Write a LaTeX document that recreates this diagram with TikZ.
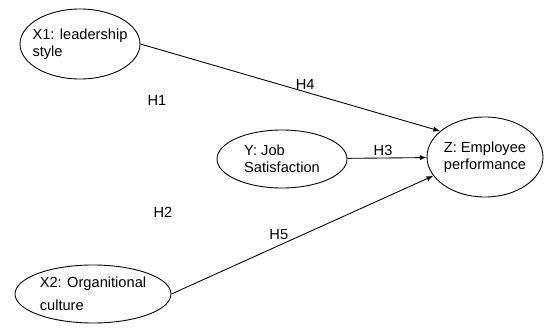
\documentclass[tikz,border=0pt]{standalone}
\usepackage{fontspec}
\setmainfont{Liberation Sans}
\usetikzlibrary{shapes.geometric}
\usetikzlibrary{arrows.meta}

\begin{document}
\begin{tikzpicture}
	[
		x = 0.024cm, y = -0.024cm,
		myconstruct/.style = {draw, ellipse, line width = 0.6pt, inner xsep = -2cm, inner ysep = -1cm, align = left, font = \fontsize{10}{11.6}\selectfont},
		myhypothesis/.style = {inner sep = 1pt, font = \fontsize{10}{12}\selectfont},
		myarrow/.style = {-latex, line width = 0.6pt}
	]
	%
	\useasboundingbox (0,0) rectangle (545,333);
	%
	\node (leadership) [myconstruct, minimum width = 2.88cm, minimum height = 1.68cm] at (80,44) {X1: leadership\\style};
	%
	\node (satisfaction) [myconstruct, minimum width = 3.12cm, minimum height = 1.392cm] at (282,159) {Y: Job\\Satisfaction};
	%
	\node (performance) [myconstruct, minimum width = 2.784cm, minimum height = 1.92cm] at (485,157) {Z: Employee\\performance};
	%
	\node (culture) [myconstruct, minimum width = 3.744cm, minimum height = 1.392cm] at (93,294) {X2: Organitional\\[4pt]culture};
	%
	\draw [myarrow] (leadership.east) -- (performance.150) node (h4) [myhypothesis, pos = 0.55, above] {H4};
	%
	\draw [myarrow] (satisfaction) -- (performance) node (h3) [myhypothesis, pos = 0.45, above] {H3};
	%
	\draw [myarrow] (culture.east) -- (performance.200) node (h5) [myhypothesis, pos = 0.41, above = 3pt] {H5};
	%
	\node (h1) [myhypothesis] at (157,100) {H1};
	\node (h2) [myhypothesis] at (163,212) {H2};
	%
\end{tikzpicture}
\end{document}
